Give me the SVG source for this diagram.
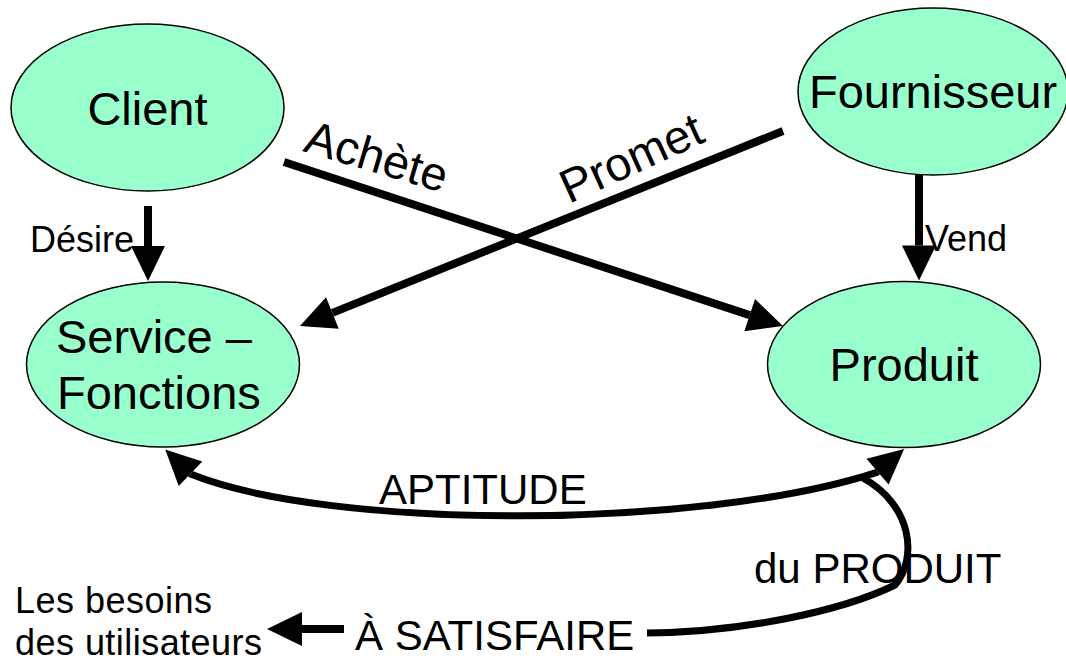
<svg xmlns="http://www.w3.org/2000/svg" width="1066" height="661" viewBox="0 0 1066 661">
  <style>
    .node { fill: #99FFCC; stroke: #000; stroke-width: 1.5; }
    .big { font-family: "Liberation Sans", Arial, sans-serif; font-size: 47px; fill: #000; }
    .mid { font-family: "Liberation Sans", Arial, sans-serif; font-size: 42px; fill: #000; }
    .small { font-family: "Liberation Sans", Arial, sans-serif; font-size: 36px; fill: #000; }
    .note { font-family: "Liberation Sans", Arial, sans-serif; font-size: 36px; fill: #000; }
    .edge { fill: none; stroke: #000; stroke-width: 8; stroke-linejoin: round; marker-end: url(#head); }
    .curve { fill: none; stroke: #000; stroke-width: 7; stroke-linejoin: round; }
  </style>
  <defs>
    <!-- filled arrowhead; its base sits on the path end and the tip points forward -->
    <marker id="head" markerUnits="userSpaceOnUse" markerWidth="36" markerHeight="34" refX="0" refY="17" orient="auto-start-reverse" overflow="visible">
      <path d="M0,0 L35,17 L0,34 Z" fill="#000"/>
    </marker>
  </defs>

  <rect width="1066" height="661" fill="#fff"/>

  <g id="client">
    <ellipse class="node" cx="147.5" cy="107.5" rx="136.5" ry="83.5"/>
    <text class="big" x="147.5" y="125" text-anchor="middle">Client</text>
  </g>

  <g id="fournisseur">
    <ellipse class="node" cx="933" cy="91.5" rx="135" ry="83.5"/>
    <text class="big" x="933" y="108" text-anchor="middle">Fournisseur</text>
  </g>

  <g id="service-fonctions">
    <ellipse class="node" cx="163" cy="364.5" rx="136.5" ry="82.5"/>
    <text class="big" x="56" y="353">Service –</text>
    <text class="big" x="57" y="409">Fonctions</text>
  </g>

  <g id="produit">
    <ellipse class="node" cx="904" cy="364.5" rx="136.5" ry="83"/>
    <text class="big" x="904" y="381" text-anchor="middle">Produit</text>
  </g>

  <g id="besoins">
    <text class="note" x="15" y="613" textLength="197" lengthAdjust="spacing">Les besoins</text>
    <text class="note" x="15" y="655" textLength="247" lengthAdjust="spacing">des utilisateurs</text>
  </g>

  <g id="labels">
    <text class="small" x="30" y="252">Désire</text>
    <text class="small" x="925" y="251">Vend</text>
    <text class="big" x="0" y="0" font-size="45" transform="translate(302,151) rotate(16.5)">Achète</text>
    <text class="big" x="0" y="0" font-size="46" transform="translate(569,204) rotate(-24.5)">Promet</text>
    <text class="mid" x="379" y="504">APTITUDE</text>
    <text class="mid" x="754" y="583">du PRODUIT</text>
    <text class="mid" x="355" y="650">À SATISFAIRE</text>
  </g>

  <g id="connectors">
    <path class="edge" d="M148,206 V246"/>
    <path class="edge" d="M919,175 V245.5"/>
    <path class="edge" d="M284,162 L749.7,315.1"/>
    <path class="edge" d="M783,131 L332.4,312.9"/>
    <path class="edge" d="M344,629 H302"/>
    <path class="curve" marker-start="url(#head)" marker-end="url(#head)"
          d="M190.5,473.7 l0.7,0.67 C330,530 700,530 876.8,472.3 l0.76,-0.65"/>
    <path class="curve" d="M647,633 C740,632 840,612 895,585 C918,558 912,505 863,478"/>
  </g>
</svg>
